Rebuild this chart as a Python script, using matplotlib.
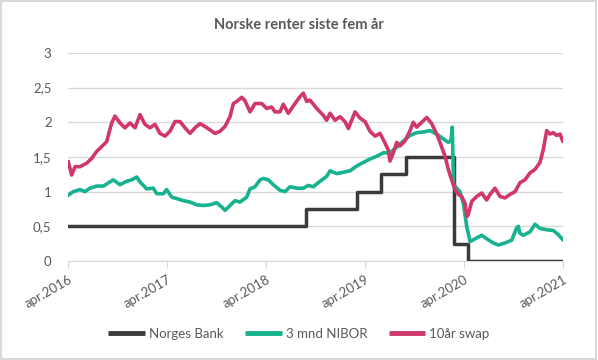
import numpy as np
import matplotlib
matplotlib.use("Agg")
import matplotlib.pyplot as plt
from matplotlib.lines import Line2D

plt.rcParams['font.family'] = ['Lato', 'DejaVu Sans']

# Norges Bank styringsrente (trappetrinn), tid i desimalår
nb_t = [2016.25, 2018.658, 2019.167, 2019.409, 2019.665, 2020.154, 2020.289, 2021.25]
nb_v = [0.5, 0.75, 1.0, 1.25, 1.5, 0.25, 0.0, 0.0]

# 3 mnd NIBOR
nibor_t = [2016.250, 2016.301, 2016.368, 2016.419, 2016.469, 2016.537, 2016.604, 2016.705,
           2016.773, 2016.841, 2016.891, 2016.942, 2016.975, 2017.043, 2017.110, 2017.144,
           2017.211, 2017.245, 2017.296, 2017.346, 2017.413, 2017.481, 2017.549, 2017.615,
           2017.683, 2017.751, 2017.801, 2017.835, 2017.885, 2017.936, 2017.986, 2018.054,
           2018.088, 2018.138, 2018.189, 2018.222, 2018.273, 2018.323, 2018.391, 2018.442,
           2018.492, 2018.560, 2018.627, 2018.677, 2018.728, 2018.796, 2018.863, 2018.897,
           2018.964, 2019.031, 2019.099, 2019.167, 2019.233, 2019.301, 2019.369, 2019.436,
           2019.503, 2019.571, 2019.638, 2019.706, 2019.773, 2019.840, 2019.908, 2019.976,
           2020.043, 2020.093, 2020.120, 2020.133, 2020.146, 2020.178, 2020.211, 2020.245,
           2020.279, 2020.313, 2020.363, 2020.431, 2020.481, 2020.548, 2020.599, 2020.666,
           2020.734, 2020.785, 2020.801, 2020.818, 2020.852, 2020.919, 2020.970, 2021.020,
           2021.088, 2021.155, 2021.205, 2021.250]
nibor_v = [0.95, 1.00, 1.03, 1.00, 1.05, 1.08, 1.08, 1.17,
           1.10, 1.15, 1.17, 1.21, 1.14, 1.04, 1.05, 0.97,
           0.97, 1.03, 0.92, 0.90, 0.87, 0.85, 0.81, 0.80,
           0.81, 0.84, 0.78, 0.73, 0.80, 0.87, 0.85, 0.92,
           1.04, 1.07, 1.17, 1.19, 1.17, 1.10, 1.02, 1.00,
           1.07, 1.05, 1.05, 1.09, 1.07, 1.15, 1.22, 1.30,
           1.26, 1.28, 1.30, 1.37, 1.42, 1.47, 1.51, 1.56,
           1.56, 1.64, 1.73, 1.81, 1.85, 1.86, 1.88, 1.83,
           1.76, 1.71, 1.74, 1.93, 1.10, 1.05, 1.00, 0.83,
           0.50, 0.28, 0.32, 0.37, 0.32, 0.26, 0.23, 0.26,
           0.30, 0.48, 0.50, 0.40, 0.37, 0.42, 0.53, 0.47,
           0.45, 0.44, 0.38, 0.31]

# 10 år swap
swap_t = [2016.250, 2016.284, 2016.318, 2016.368, 2016.436, 2016.487, 2016.537, 2016.588,
          2016.638, 2016.689, 2016.722, 2016.773, 2016.823, 2016.874, 2016.925, 2016.975,
          2017.026, 2017.076, 2017.127, 2017.177, 2017.228, 2017.278, 2017.329, 2017.380,
          2017.430, 2017.481, 2017.531, 2017.582, 2017.632, 2017.683, 2017.733, 2017.784,
          2017.835, 2017.885, 2017.919, 2017.953, 2018.004, 2018.037, 2018.088, 2018.138,
          2018.206, 2018.256, 2018.307, 2018.340, 2018.391, 2018.424, 2018.475, 2018.543,
          2018.593, 2018.627, 2018.661, 2018.694, 2018.762, 2018.829, 2018.863, 2018.897,
          2018.947, 2018.998, 2019.048, 2019.082, 2019.150, 2019.200, 2019.251, 2019.301,
          2019.352, 2019.402, 2019.453, 2019.486, 2019.503, 2019.537, 2019.571, 2019.605,
          2019.655, 2019.706, 2019.739, 2019.773, 2019.824, 2019.875, 2019.925, 2019.976,
          2020.009, 2020.060, 2020.093, 2020.127, 2020.161, 2020.194, 2020.229, 2020.262,
          2020.280, 2020.295, 2020.330, 2020.380, 2020.431, 2020.481, 2020.515, 2020.565,
          2020.616, 2020.666, 2020.717, 2020.768, 2020.818, 2020.869, 2020.919, 2020.970,
          2021.020, 2021.054, 2021.088, 2021.122, 2021.155, 2021.189, 2021.223, 2021.250]
swap_v = [1.43, 1.24, 1.36, 1.36, 1.41, 1.48, 1.58, 1.65,
          1.72, 1.99, 2.09, 1.99, 1.92, 1.99, 1.92, 2.11,
          1.97, 1.92, 1.97, 1.84, 1.80, 1.87, 2.01, 2.01,
          1.92, 1.84, 1.92, 1.98, 1.94, 1.89, 1.84, 1.87,
          1.94, 2.08, 2.27, 2.30, 2.36, 2.31, 2.15, 2.27,
          2.27, 2.20, 2.22, 2.15, 2.15, 2.26, 2.13, 2.27,
          2.37, 2.42, 2.30, 2.32, 2.20, 2.10, 2.03, 2.13,
          2.03, 2.08, 2.01, 1.91, 2.15, 2.06, 2.01, 1.87,
          1.80, 1.84, 1.70, 1.60, 1.44, 1.56, 1.71, 1.66,
          1.73, 1.88, 2.00, 1.93, 2.00, 2.07, 1.98, 1.83,
          1.71, 1.51, 1.32, 1.17, 1.03, 0.96, 0.93, 0.83,
          0.64, 0.67, 0.86, 0.93, 0.98, 0.88, 0.96, 1.05,
          0.93, 0.91, 0.96, 1.00, 1.13, 1.17, 1.27, 1.32,
          1.42, 1.61, 1.88, 1.83, 1.85, 1.81, 1.83, 1.73]

year_ticks = [2016.25, 2017.25, 2018.25, 2019.25, 2020.25, 2021.25]
year_labels = ["apr.2016", "apr.2017", "apr.2018", "apr.2019", "apr.2020", "apr.2021"]
y_ticks = [0, 0.5, 1, 1.5, 2, 2.5, 3]
y_labels = ["0", "0,5", "1", "1,5", "2", "2,5", "3"]

c_nb = "#3b3b3b"
c_nibor = "#16b38e"
c_swap = "#d0386c"
grey = "#595959"

fig = plt.figure(figsize=(5.98, 3.60), dpi=100)
fig.patches.append(plt.Rectangle((0.002, 0.003), 0.995, 0.994, transform=fig.transFigure,
                                 fill=False, edgecolor="#d9d9d9", linewidth=1.5))
ax = fig.add_axes([0.1142, 0.275, 0.8268, 0.578])

ax.plot(nb_t, nb_v, drawstyle="steps-post", color=c_nb, lw=2.5, label="Norges Bank", zorder=3)
ax.plot(nibor_t, nibor_v, color=c_nibor, lw=2.6, label="3 mnd NIBOR", zorder=3)
ax.plot(swap_t, swap_v, color=c_swap, lw=2.6, label="10år swap", zorder=4)

ax.set_xlim(2016.25, 2021.25)
ax.set_ylim(0, 3)
ax.set_yticks(y_ticks)
ax.set_yticklabels(y_labels)
ax.set_xticks(year_ticks)
ax.set_xticklabels(year_labels, rotation=30, ha="right", rotation_mode="anchor")
ax.grid(axis="y", color="#d9d9d9", lw=1)
ax.set_axisbelow(True)
for s in ["left", "right", "top"]:
    ax.spines[s].set_visible(False)
ax.spines["bottom"].set_color("#d9d9d9")
ax.tick_params(axis="y", length=0, pad=12, labelsize=9.5, labelcolor=grey)
ax.tick_params(axis="x", length=5, color="#d9d9d9", pad=4, labelsize=9.5, labelcolor=grey)

fig.text(0.5, 0.93, "Norske renter siste fem år", ha="center", va="center",
         fontsize=10.5, fontweight="bold", color=grey)

handles = [Line2D([], [], color=c, lw=3.5, solid_capstyle="butt") for c in (c_nb, c_nibor, c_swap)]
fig.legend(handles, ["Norges Bank", "3 mnd NIBOR", "10år swap"], loc="center",
           bbox_to_anchor=(0.5, 0.072), ncol=3, frameon=False, fontsize=9.5,
           labelcolor=grey, handlelength=2.8, handletextpad=0.3, columnspacing=1.6)

fig.savefig("out.png", dpi=100)
